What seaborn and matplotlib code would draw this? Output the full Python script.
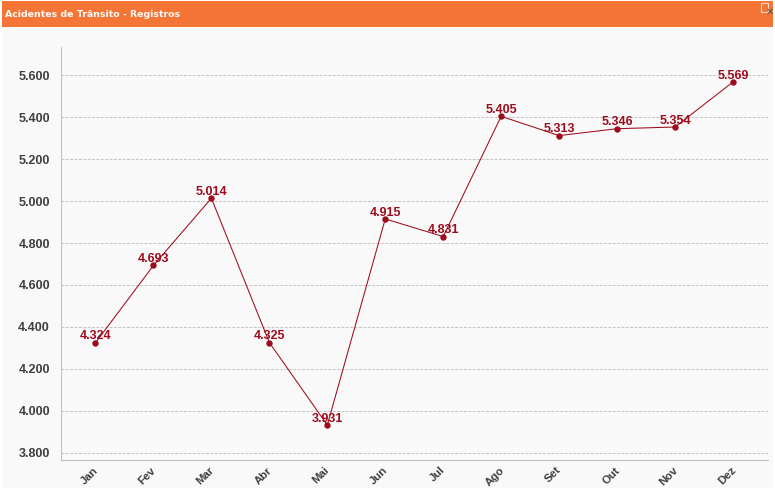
import matplotlib
matplotlib.use("Agg")
import matplotlib.pyplot as plt
from matplotlib.patches import Rectangle
from matplotlib.transforms import ScaledTranslation
import pandas as pd
import seaborn as sns

# Data
meses = ["Jan", "Fev", "Mar", "Abr", "Mai", "Jun", "Jul", "Ago", "Set", "Out", "Nov", "Dez"]
registros = [4324, 4693, 5014, 4325, 3931, 4915, 4831, 5405, 5313, 5346, 5354, 5569]
y_ticks = [3800, 4000, 4200, 4400, 4600, 4800, 5000, 5200, 5400, 5600]

W, H = 775, 488
VERMELHO = "#9E0B1C"

sns.set_theme(style="white")
plt.rcParams["font.family"] = ["Liberation Sans", "DejaVu Sans"]


def fmt(v):
    return f"{v:,}".replace(",", ".")


df = pd.DataFrame({"mes": meses, "registros": registros})

fig = plt.figure(figsize=(W / 100, H / 100), dpi=100, facecolor="white")

# Panel and header
fig.patches.append(Rectangle((2 / W, 0), 771 / W, 1 - 27 / H, transform=fig.transFigure,
                             facecolor="#F9F9F9", edgecolor="none", zorder=-2))
fig.patches.append(Rectangle((2 / W, 1 - 27 / H), 771 / W, 26 / H, transform=fig.transFigure,
                             facecolor="#F47536", edgecolor="none", zorder=-2))
fig.text(5 / W, 1 - 14.5 / H, "Acidentes de Trânsito - Registros", color="white",
         fontsize=6.75, fontweight="bold", va="center", ha="left", family="DejaVu Sans")

# Small broken-image icon in the header
fig.patches.append(Rectangle((761 / W, 1 - 12 / H), 7 / W, 9 / H, transform=fig.transFigure,
                             facecolor="none", edgecolor="#F8D8C4", linewidth=0.8, zorder=-1))
fig.text(769.5 / W, 1 - 11.5 / H, "✕", color="#5A5048", fontsize=7, fontweight="bold",
         va="center", ha="center", family="DejaVu Sans")

ax = fig.add_axes([61 / W, 1 - 459.5 / H, 707 / W, 412.5 / H])
ax.set_facecolor("none")

sns.lineplot(data=df, x="mes", y="registros", sort=False, color=VERMELHO, linewidth=0.75,
             marker="o", markersize=4.6, markeredgewidth=0, markeredgecolor=VERMELHO, ax=ax)

ax.set_xlim(-0.595, 11.604)
ax.set_ylim(3766.6, 5736)
ax.set_xlabel("")
ax.set_ylabel("")

ax.set_yticks(y_ticks)
ax.set_yticklabels([fmt(v) for v in y_ticks], fontsize=9, fontweight="bold", color="#3F3F3F")
ax.set_xticks(range(len(meses)))
ax.set_xticklabels(meses, fontsize=8.2, fontweight="bold", color="#3F3F3F", rotation=45,
                   ha="center", va="top")
ax.tick_params(axis="y", length=0, pad=8)
ax.tick_params(axis="x", length=0, pad=4)

# rotated month labels sit left of the point in the original
shift = ScaledTranslation(-6 / 100, 0, fig.dpi_scale_trans)
for lab in ax.get_xticklabels():
    lab.set_transform(lab.get_transform() + shift)

ax.grid(axis="y", color="#C4C4C4", linestyle=(0, (3, 1.5)), linewidth=0.7)
ax.grid(axis="x", visible=False)
ax.set_axisbelow(True)

for s in ["top", "right"]:
    ax.spines[s].set_visible(False)
for s in ["left", "bottom"]:
    ax.spines[s].set_color("#C0C0C0")
    ax.spines[s].set_linewidth(0.75)

# Value labels
for i, v in enumerate(registros):
    ax.annotate(fmt(v), (i, v), xytext=(0, 0.3), textcoords="offset points", ha="center",
                va="bottom", fontsize=9, fontweight="bold", color=VERMELHO)

fig.savefig("out.png", dpi=100, facecolor=fig.get_facecolor())
